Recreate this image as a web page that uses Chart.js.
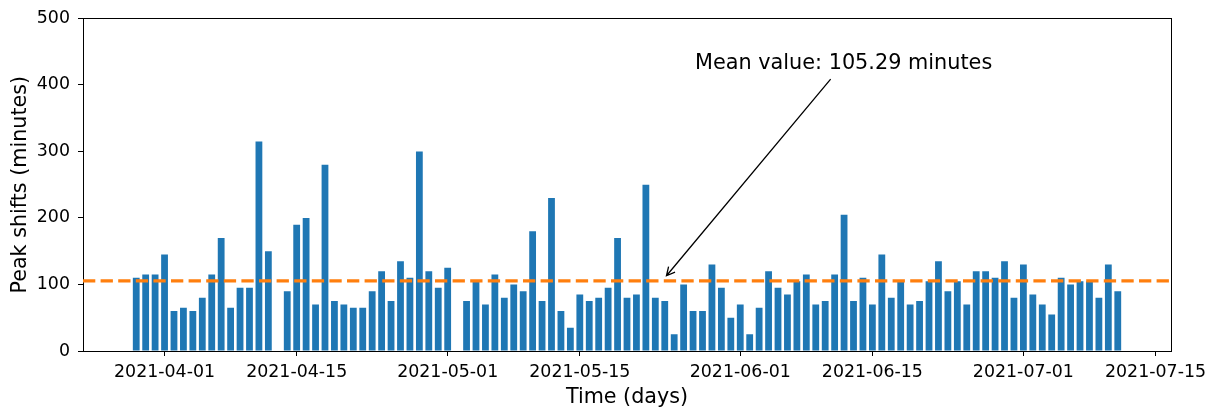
<!DOCTYPE html>
<html>
<head>
<meta charset="utf-8">
<script src="https://cdn.jsdelivr.net/npm/chart.js@4/dist/chart.umd.min.js"></script>
<style>
	html, body { margin: 0; padding: 0; background: #fff; }
</style>
</head>
<body>
<canvas id="peak-chart" width="1224" height="410"></canvas>
<script>
// Days with a recorded peak shift (04-13 and 05-02 have no value)
var dates = [
	'2021-03-29', '2021-03-30', '2021-03-31',
	'2021-04-01', '2021-04-02', '2021-04-03', '2021-04-04', '2021-04-05', '2021-04-06', '2021-04-07', '2021-04-08',
	'2021-04-09', '2021-04-10', '2021-04-11', '2021-04-12', '2021-04-14', '2021-04-15', '2021-04-16', '2021-04-17',
	'2021-04-18', '2021-04-19', '2021-04-20', '2021-04-21', '2021-04-22', '2021-04-23', '2021-04-24', '2021-04-25',
	'2021-04-26', '2021-04-27', '2021-04-28', '2021-04-29', '2021-04-30',
	'2021-05-01', '2021-05-03', '2021-05-04', '2021-05-05', '2021-05-06', '2021-05-07', '2021-05-08', '2021-05-09',
	'2021-05-10', '2021-05-11', '2021-05-12', '2021-05-13', '2021-05-14', '2021-05-15', '2021-05-16', '2021-05-17',
	'2021-05-18', '2021-05-19', '2021-05-20', '2021-05-21', '2021-05-22', '2021-05-23', '2021-05-24', '2021-05-25',
	'2021-05-26', '2021-05-27', '2021-05-28', '2021-05-29', '2021-05-30', '2021-05-31',
	'2021-06-01', '2021-06-02', '2021-06-03', '2021-06-04', '2021-06-05', '2021-06-06', '2021-06-07', '2021-06-08',
	'2021-06-09', '2021-06-10', '2021-06-11', '2021-06-12', '2021-06-13', '2021-06-14', '2021-06-15', '2021-06-16',
	'2021-06-17', '2021-06-18', '2021-06-19', '2021-06-20', '2021-06-21', '2021-06-22', '2021-06-23', '2021-06-24',
	'2021-06-25', '2021-06-26', '2021-06-27', '2021-06-28', '2021-06-29', '2021-06-30',
	'2021-07-01', '2021-07-02', '2021-07-03', '2021-07-04', '2021-07-05', '2021-07-06', '2021-07-07', '2021-07-08',
	'2021-07-09', '2021-07-10', '2021-07-11'
];

var peakShifts = [
	110, 115, 115,
	145, 60, 65, 60, 80, 115, 170, 65,
	95, 95, 315, 150, 90, 190, 200, 70,
	280, 75, 70, 65, 65, 90, 120, 75,
	135, 110, 300, 120, 95,
	125, 75, 105, 70, 115, 80, 100, 90,
	180, 75, 230, 60, 35, 85, 75, 80,
	95, 170, 80, 85, 250, 80, 75, 25,
	100, 60, 60, 130, 95, 50,
	70, 25, 65, 120, 95, 85, 105, 115,
	70, 75, 115, 205, 75, 110, 70, 145,
	80, 105, 70, 75, 105, 135, 90, 105,
	70, 120, 120, 110, 135, 80,
	130, 85, 70, 55, 110, 100, 105, 105,
	80, 130, 90
];

var tickDates = ['2021-04-01', '2021-04-15', '2021-05-01', '2021-05-15', '2021-06-01', '2021-06-15', '2021-07-01', '2021-07-15'];
var meanValue = 105.29;
var meanLabel = 'Mean value: 105.29 minutes';

function toDay(s) {
	return Date.UTC(+s.slice(0, 4), +s.slice(5, 7) - 1, +s.slice(8, 10)) / 86400000;
}

// matplotlib-like x limits: bar edges plus 5% margin
var firstDay = toDay(dates[0]) - 0.4;
var lastDay = toDay(dates[dates.length - 1]) + 0.4;
var margin = (lastDay - firstDay) * 0.05;

var FONT = 'DejaVu Sans';

// top and right spines
var framePlugin = {
	id: 'frame',
	afterDatasetsDraw: function(chart) {
		var a = chart.chartArea, ctx = chart.ctx;
		ctx.save();
		ctx.strokeStyle = '#000';
		ctx.lineWidth = 1;
		ctx.strokeRect(Math.round(a.left) + 0.5, Math.round(a.top) + 0.5, Math.round(a.right - a.left), Math.round(a.bottom - a.top));
		ctx.restore();
	}
};

// dashed mean line and its annotation
var meanPlugin = {
	id: 'meanLine',
	afterDatasetsDraw: function(chart) {
		var ctx = chart.ctx, a = chart.chartArea;
		var xs = chart.scales.x, ys = chart.scales.y;
		var y = ys.getPixelForValue(meanValue);
		ctx.save();
		ctx.strokeStyle = '#ff7f0e';
		ctx.lineWidth = 3.3;
		ctx.setLineDash([12.3, 5.3]);
		ctx.beginPath();
		ctx.moveTo(a.left, y);
		ctx.lineTo(a.right, y);
		ctx.stroke();
		ctx.setLineDash([]);

		// text
		var fs = 20.8;
		ctx.font = fs + 'px "' + FONT + '"';
		ctx.fillStyle = '#000';
		ctx.textAlign = 'left';
		ctx.textBaseline = 'alphabetic';
		var tx = xs.getPixelForValue(toDay('2021-05-27') + 0.2);
		var ty = ys.getPixelForValue(424);
		ctx.fillText(meanLabel, tx, ty);
		var w = ctx.measureText(meanLabel).width;

		// arrow from text centre to the mean line
		var cx = tx + w / 2, cy = ty - 0.26 * fs;
		var px = xs.getPixelForValue(toDay('2021-05-24')), py = ys.getPixelForValue(110);
		var dx = px - cx, dy = py - cy, len = Math.sqrt(dx * dx + dy * dy);
		var ux = dx / len, uy = dy / len;
		var t0 = 15.5 / uy;
		var sx = cx + ux * t0, sy = cy + uy * t0;
		var ex = px - ux * 2.7, ey = py - uy * 2.7;
		ctx.strokeStyle = '#000';
		ctx.lineWidth = 1.3;
		ctx.beginPath();
		ctx.moveTo(sx, sy);
		ctx.lineTo(ex, ey);
		var hl = 8.3, hw = 4.2;
		var bx = ex - ux * hl, by = ey - uy * hl;
		ctx.moveTo(bx - uy * hw, by + ux * hw);
		ctx.lineTo(ex, ey);
		ctx.lineTo(bx + uy * hw, by - ux * hw);
		ctx.stroke();
		ctx.restore();
	}
};

var ctx = document.getElementById('peak-chart');

var chart = new Chart(ctx, {
	type: 'bar',
	data: {
		datasets: [{
			label: 'Peak shifts',
			data: dates.map(function(d, i) { return { x: toDay(d), y: peakShifts[i] }; }),
			backgroundColor: '#1f77b4',
			borderWidth: 0,
			barPercentage: 0.72,
			categoryPercentage: 1.0
		}]
	},
	options: {
		responsive: false,
		animation: false,
		devicePixelRatio: 1,
		layout: { padding: { left: 0, right: 53, top: 16, bottom: 0 } },
		plugins: {
			legend: { display: false },
			tooltip: { enabled: false }
		},
		scales: {
			x: {
				type: 'linear',
				offset: false,
				min: firstDay - margin,
				max: lastDay + margin,
				afterBuildTicks: function(scale) {
					scale.ticks = tickDates.map(function(d) { return { value: toDay(d) }; });
				},
				afterFit: function(scale) { scale.height = 59; },
				ticks: {
					autoSkip: false,
					maxRotation: 0,
					padding: 6,
					color: '#000',
					font: { family: FONT, size: 17.4 },
					callback: function(v, i) { return tickDates[i]; }
				},
				grid: { offset: false, drawOnChartArea: false, drawTicks: true, tickLength: 5, color: '#000' },
				border: { display: true, color: '#000', width: 1 },
				title: {
					display: true,
					text: 'Time (days)',
					color: '#000',
					font: { family: FONT, size: 20.7 },
					padding: { top: 0, bottom: 0 }
				}
			},
			y: {
				min: 0,
				max: 500,
				afterFit: function(scale) { scale.width = 83; },
				ticks: {
					stepSize: 100,
					padding: 8,
					color: '#000',
					font: { family: FONT, size: 17.4 }
				},
				grid: { drawOnChartArea: false, drawTicks: true, tickLength: 5, color: '#000' },
				border: { display: true, color: '#000', width: 1 },
				title: {
					display: true,
					text: 'Peak shifts (minutes)',
					color: '#000',
					font: { family: FONT, size: 20.7 },
					padding: { top: 8.6, bottom: 0 }
				}
			}
		}
	},
	plugins: [framePlugin, meanPlugin]
});
</script>
</body>
</html>
